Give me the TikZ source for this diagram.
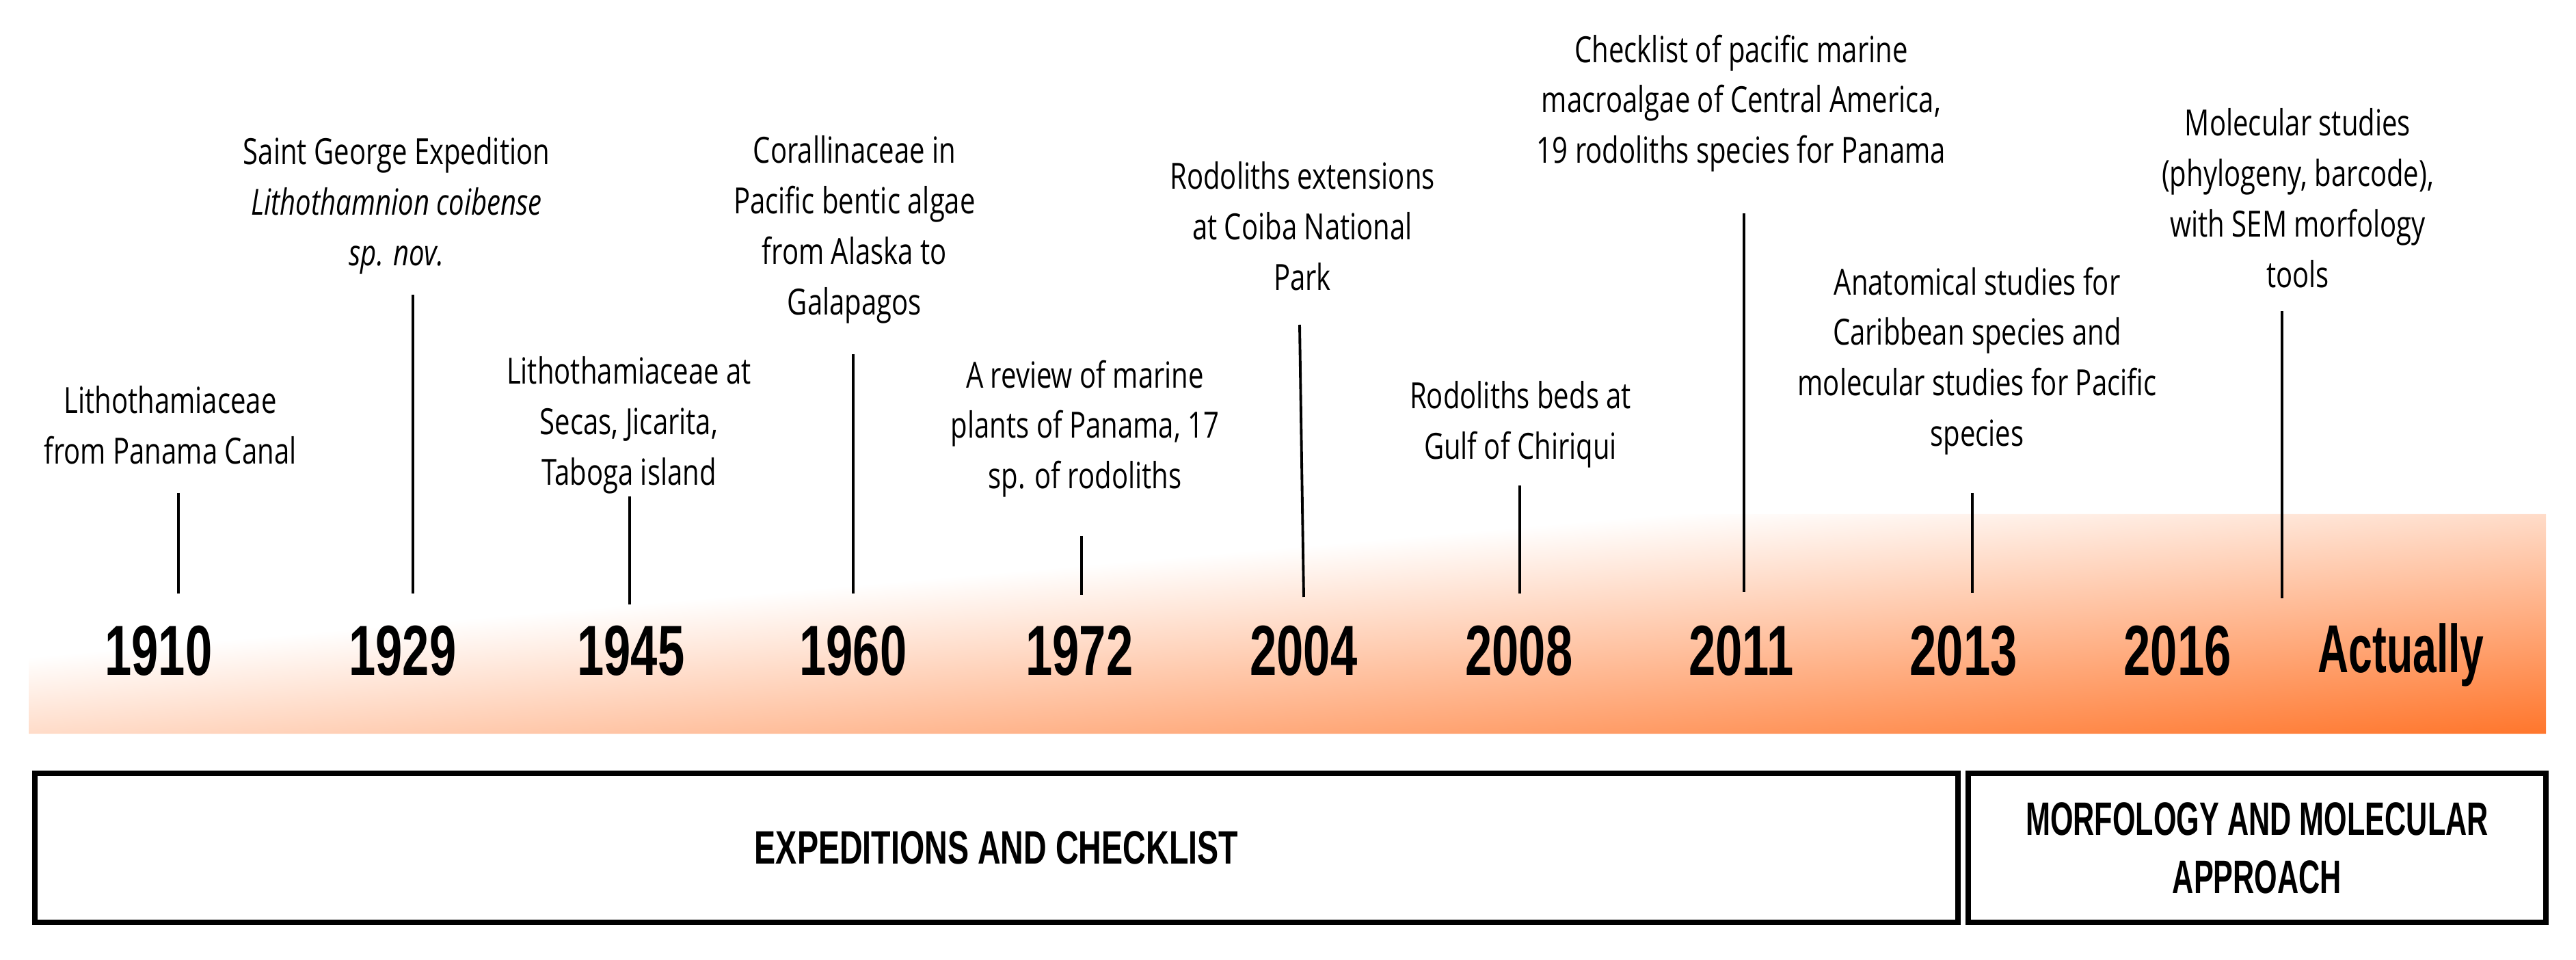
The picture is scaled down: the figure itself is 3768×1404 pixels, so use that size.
\documentclass[tikz,border=0pt]{standalone}
\usepackage{fontspec}
\setmainfont{Open Sans}[FakeStretch=0.76]
\newfontfamily\boldnarrow{Liberation Sans}[FakeStretch=0.68]
\newfontfamily\boldnarrower{Liberation Sans}[FakeStretch=0.63]
\definecolor{bandorange}{RGB}{255,118,44}
% stops: central 50bp (25bp..75bp) spans s = u+v from 0 to 2
\pgfdeclarehorizontalshading{bandshade}{100bp}{color(0bp)=(white); color(41.25bp)=(white); color(75bp)=(bandorange); color(100bp)=(bandorange)}
\newcommand{\descfont}{\fontsize{15}{21}\selectfont}
\newcommand{\yearfont}{\boldnarrow\bfseries\fontsize{29.5}{34}\selectfont}
\newcommand{\actfont}{\boldnarrower\bfseries\fontsize{28.2}{34}\selectfont}
\newcommand{\phasefont}{\boldnarrow\bfseries\fontsize{19.5}{24.2}\selectfont}
\newcommand{\phasefontb}{\boldnarrower\bfseries\fontsize{19.5}{24.2}\selectfont}
\begin{document}
\begin{tikzpicture}[x=0.01cm,y=-0.01cm,
  desc/.style={align=center, font=\descfont, inner sep=0pt, anchor=north},
  yearlbl/.style={font=\yearfont, inner sep=0pt, anchor=base},
  tick/.style={line width=1.1pt, black},
  phase/.style={draw=black, line width=2.3pt, inner sep=0pt, align=center, font=\phasefont, minimum height=2.18cm}]
\useasboundingbox (0,0) rectangle (3768,1404);
\fill[white] (0,0) rectangle (3768,1404);
% gradient band (diagonal gradient stretched with the band)
\begin{scope}[transform canvas={cm={5.2353,-0.45666,5.2353,0.45666,(42,752)}}]
  \shade[shading=bandshade] (0pt,0pt) -- (100pt,100pt) -- (200pt,0pt) -- (100pt,-100pt) -- cycle;
\end{scope}
% descriptions
\node[desc] (d1910) at (249,564) {Lithothamiaceae\\from Panama Canal};
\node[desc] (d1929) at (580,200) {Saint George Expedition\\\textit{Lithothamnion coibense}\\\textit{sp. nov.}};
\node[desc] (d1945) at (920,521) {Lithothamiaceae at\\Secas, Jicarita,\\Taboga island};
\node[desc] (d1960) at (1250,198) {Corallinaceae in\\Pacific bentic algae\\from Alaska to\\Galapagos};
\node[desc] (d1972) at (1587,526) {A review of marine\\plants of Panama, 17\\sp. of rodoliths};
\node[desc] (d2004) at (1905,236) {Rodoliths extensions\\at Coiba National\\Park};
\node[desc] (d2008) at (2224,557) {Rodoliths beds at\\Gulf of Chiriqui};
\node[desc] (d2011) at (2547,50) {Checklist of pacific marine\\macroalgae of Central America,\\19 rodoliths species for Panama};
\node[desc] (d2013) at (2892,390) {Anatomical studies for\\Caribbean species and\\molecular studies for Pacific\\species};
\node[desc] (dmol) at (3361,158) {Molecular studies\\(phylogeny, barcode),\\with SEM morfology\\tools};
% years
\node[yearlbl] (y1910) at (232,988) {1910};
\node[yearlbl] (y1929) at (589,988) {1929};
\node[yearlbl] (y1945) at (923,988) {1945};
\node[yearlbl] (y1960) at (1248,988) {1960};
\node[yearlbl] (y1972) at (1579,988) {1972};
\node[yearlbl] (y2004) at (1907,988) {2004};
\node[yearlbl] (y2008) at (2222,988) {2008};
\node[yearlbl] (y2011) at (2547,988) {2011};
\node[yearlbl] (y2013) at (2872,988) {2013};
\node[yearlbl] (y2016) at (3185,988) {2016};
\node[yearlbl, font=\actfont] (yact) at (3512,984) {Actually};
% tick line ends
\coordinate (t1910) at (261,721);  \coordinate (b1910) at (261,868);
\coordinate (t1929) at (604,431);  \coordinate (b1929) at (604,868);
\coordinate (t1945) at (921,726);  \coordinate (b1945) at (921,884);
\coordinate (t1960) at (1248,518); \coordinate (b1960) at (1248,868);
\coordinate (t1972) at (1582,784); \coordinate (b1972) at (1582,870);
\coordinate (t2004) at (1901,475); \coordinate (b2004) at (1907,873);
\coordinate (t2008) at (2223,710); \coordinate (b2008) at (2223,868);
\coordinate (t2011) at (2551,312); \coordinate (b2011) at (2551,866);
\coordinate (t2013) at (2885,721); \coordinate (b2013) at (2885,867);
\coordinate (tmol) at (3338,455);  \coordinate (bmol) at (3338,875);
\foreach \k in {1910,1929,1945,1960,1972,2004,2008,2011,2013,mol}
  \draw[tick] (t\k) -- (b\k);
% phases
\node[phase, minimum width=28.11cm] (p1) at (1457.5,1240) {EXPEDITIONS AND CHECKLIST};
\node[phase, font=\phasefontb, minimum width=8.45cm] (p2) at (3301.5,1240) {MORFOLOGY AND MOLECULAR\\APPROACH};
\end{tikzpicture}
\end{document}
